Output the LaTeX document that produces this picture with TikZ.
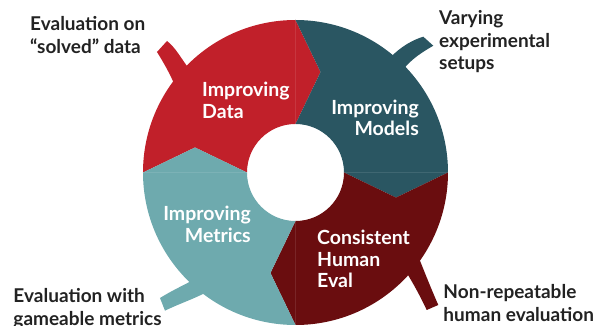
\documentclass[tikz,border=0pt]{standalone}
\usepackage{fontspec}
\setmainfont{Lato}
\definecolor{segRed}{HTML}{C1202A}
\definecolor{segTeal}{HTML}{2A5662}
\definecolor{segDark}{HTML}{6A0D0F}
\definecolor{segLight}{HTML}{6EAAAE}
\definecolor{ink}{HTML}{222222}
\def\outerR{152.5}
\def\innerR{48.5}
\def\tipR{103.56}
\begin{document}
\begin{tikzpicture}[x=1pt,y=1pt,
  outerlbl/.style={font=\fontsize{19}{22.6}\selectfont\bfseries, text=ink, inner sep=0pt, align=left, anchor=base west},
  innerlbl/.style={font=\fontsize{19.5}{21.5}\selectfont\bfseries, text=white, inner sep=0pt},
  seam/.style={white, opacity=0.1, line width=0.5pt},
]
\useasboundingbox (-295.5,-153.5) rectangle (299.5,172.5);
% four arrow segments of the cycle
\foreach \a/\c in {180/segRed, 90/segTeal, 0/segDark, 270/segLight}{
  \fill[\c] ({\a}:\outerR pt) arc[start angle=\a, end angle=\a-90, radius=\outerR pt]
     -- ({\a-104}:\tipR pt) -- ({\a-90}:\innerR pt)
     arc[start angle=\a-90, end angle=\a, radius=\innerR pt]
     -- ({\a-14}:\tipR pt) -- cycle;
  \draw[seam] ({\a-90}:\innerR pt) -- ({\a-90}:\outerR pt);
}
% stems
\fill[segRed] (-118,80) .. controls (-122,92) and (-130,107) .. (-138.5,120.5)
   -- (-128.5,131.5) .. controls (-120,125) and (-115,115) .. (-106,103) -- cycle;
\fill[segTeal] (92,112) .. controls (100,121) and (112,131) .. (127.8,135.8)
   -- (137.8,126.8) .. controls (128,121) and (116,114) .. (107,102) -- cycle;
\fill[segLight] (-96,-104) .. controls (-106,-110) and (-122,-117) .. (-135.5,-125.5)
   -- (-130.5,-138.2) .. controls (-116,-131) and (-100,-126) .. (-86,-118) -- cycle;
\fill[segDark] (108,-95) .. controls (116,-108) and (124,-122) .. (131.2,-137.5)
   -- (142.8,-132.5) .. controls (136,-117) and (130,-102) .. (122,-82) -- cycle;
% inner labels (anchored at the baseline of the last line)
\node[innerlbl, align=left, anchor=base west] (data) at (-93.5,54) {Improving\\Data};
\node[innerlbl, align=right, anchor=base east] (models) at (123.5,36.5) {Improving\\Models};
\node[innerlbl, align=right, anchor=base east] (metrics) at (-44.5,-69.8) {Improving\\Metrics};
\node[innerlbl, align=left, anchor=base west] (human) at (21.5,-115.2) {Consistent\\Human\\Eval};
% outer labels
\node[outerlbl] (solved) at (-265.5,119.2) {Evaluation on\\“solved” data};
\node[outerlbl] (setups) at (143.5,102.5) {Varying\\experimental\\setups};
\node[outerlbl] (gameable) at (-282.2,-152.8) {Evaluation with\\gameable metrics};
\node[outerlbl] (nonrep) at (147.8,-149.1) {Non-repeatable\\human evaluation};
\end{tikzpicture}
\end{document}
